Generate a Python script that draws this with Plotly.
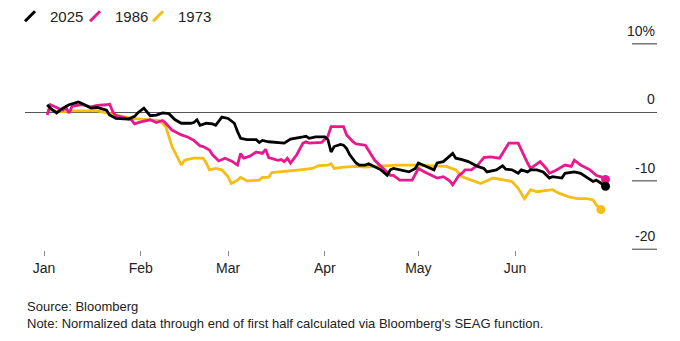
import pandas as pd
import plotly.graph_objects as go

# ---- data (days since Jan 1, cumulative % change) ----
d2025 = [1,2,4,6,8,11,13,15,17,20,21,23,27,29,30,32,34,36,38,40,42,44,47,48,49,50,52,54,55,57,
         59,61,62,63,65,68,69,70,72,76,77,79,81,83,84,85,87,90,91,92,93,95,96,97,98,100,101,103,104,106,
         108,110,111,112,114,117,119,120,122,124,125,126,128,131,132,134,136,139,141,142,145,147,148,150,152,153,155,156,158,160,
         162,163,166,167,170,172,173,174,176,177,179,180]
v2025 = [1.1,0.6,-0.1,0.6,1.1,1.5,1.1,0.6,0.7,0.3,-0.4,-0.9,-1.0,-0.6,-0.1,0.6,-0.5,-0.4,-0.1,-0.2,
         -1.1,-1.6,-1.6,-1.5,-1.1,-1.9,-1.6,-1.7,-1.9,-0.7,-0.9,-1.6,-2.8,-3.8,-4.0,-4.0,-4.4,-4.1,-4.3,-4.5,
         -4.5,-3.9,-3.8,-3.6,-3.5,-3.8,-3.6,-3.6,-4.0,-5.8,-5.0,-4.7,-4.8,-5.3,-6.2,-7.4,-7.7,-7.7,-7.5,-7.9,
         -8.4,-9.2,-8.4,-8.2,-8.4,-8.7,-8.2,-7.4,-7.8,-8.2,-8.4,-7.4,-7.2,-6.0,-6.7,-6.9,-7.2,-7.9,-8.2,-8.7,
         -8.4,-7.8,-8.3,-8.4,-8.9,-8.4,-8.7,-8.4,-8.4,-8.7,-9.6,-9.4,-9.6,-8.9,-8.7,-8.9,-9.2,-9.6,-10.1,-9.9,
         -10.5,-10.8]

d1986 = [1,2,4,6,7,8,9,12,15,17,20,21,22,23,25,28,29,31,34,36,38,39,41,44,46,48,50,51,53,54,
         56,58,60,62,63,64,66,68,70,71,72,75,76,77,78,79,81,83,84,85,89,91,92,94,96,97,99,100,103,106,
         108,110,111,112,114,118,120,122,124,126,128,130,131,133,134,135,137,139,141,143,
         146,149,152,154,155,156,159,161,162,164,167,169,170,172,173,175,177,179,180]
v1986 = [-0.4,1.1,0.7,0.3,0.7,-0.1,0.9,1.1,0.8,1.0,1.1,1.2,0.1,-0.5,-0.7,-1.1,-1.7,-1.4,-1.1,-1.5,
         -1.2,-1.6,-2.6,-3.3,-3.6,-4.1,-4.9,-5.0,-5.5,-6.2,-7.1,-6.7,-7.1,-7.7,-6.0,-6.7,-6.4,-5.8,-6.0,-5.4,
         -6.6,-7.0,-6.9,-7.2,-6.7,-7.4,-6.2,-4.5,-4.3,-4.5,-4.4,-3.5,-2.1,-2.1,-2.1,-3.3,-4.3,-4.6,-4.8,-7.0,
         -7.9,-8.7,-9.2,-9.2,-9.9,-9.9,-8.2,-8.7,-9.2,-9.6,-9.4,-10.0,-10.6,-9.2,-8.9,-8.4,-8.4,-7.7,-6.6,-6.5,
         -6.7,-4.5,-4.5,-6.5,-7.4,-8.2,-7.2,-8.2,-8.9,-8.5,-7.7,-7.9,-7.0,-7.7,-7.9,-8.4,-9.2,-9.5,-9.8]

d1973 = [1,3,6,9,17,20,23,28,31,34,37,39,41,44,45,48,51,52,53,55,57,59,60,62,63,65,69,70,72,73,
         76,79,82,84,86,88,91,92,93,96,100,103,108,113,119,126,129,132,134,137,
         140,144,147,150,152,154,156,158,163,165,168,171,174,176,177,178.5]
v1973 = [0.3,0.2,0.1,0.2,0.2,-0.1,-0.4,-0.9,-1.0,-1.1,-1.2,-2.1,-5.0,-7.7,-7.0,-6.7,-6.7,-7.4,-8.4,-8.2,
         -8.4,-9.4,-10.4,-9.9,-9.5,-10.0,-9.9,-9.5,-9.5,-8.8,-8.7,-8.6,-8.4,-8.3,-8.2,-7.8,-7.7,-7.5,-8.2,-8.0,
         -7.9,-8.0,-7.8,-7.7,-7.7,-7.8,-7.9,-8.4,-9.4,-9.9,-10.4,-9.6,-9.9,-10.1,-11.1,-12.6,-11.3,-11.6,-11.3,-11.8,
         -12.3,-12.6,-12.6,-12.8,-13.5,-14.2]

month_ticks = ["2025-01-01", "2025-02-01", "2025-03-01", "2025-04-01", "2025-05-01", "2025-06-01"]
month_labels = ["Jan", "Feb", "Mar", "Apr", "May", "Jun"]
y_ticks = [10, 0, -10, -20]
y_labels = ["10%", "0", "-10", "-20"]

names = ["2025", "1986", "1973"]
colors = {"2025": "#000000", "1986": "#e6198f", "1973": "#f6bd16"}
series = {"2025": (d2025, v2025), "1986": (d1986, v1986), "1973": (d1973, v1973)}

base = pd.Timestamp("2025-01-01")
def to_dates(days):
    return [base + pd.Timedelta(days=d) for d in days]

FONT = "Liberation Sans, Arial, Helvetica, sans-serif"
fig = go.Figure()

# lines (1973 at bottom, 2025 on top)
for name in ["1973", "1986", "2025"]:
    d, v = series[name]
    x = to_dates(d)
    fig.add_trace(go.Scatter(x=x, y=v, mode="lines", showlegend=False,
                             line=dict(color=colors[name], width=2.8), hoverinfo="skip"))
    fig.add_trace(go.Scatter(x=[x[-1]], y=[v[-1]], mode="markers", showlegend=False,
                             marker=dict(color=colors[name], size=9), hoverinfo="skip"))

# legend entries, one small legend per series
legend_ids = ["legend", "legend2", "legend3"]
legend_left = [10, 75, 138]
for name, lid in zip(names, legend_ids):
    fig.add_trace(go.Scatter(x=[None], y=[None], mode="markers", name=name, legend=lid,
                             marker=dict(symbol="line-ne", size=10,
                                         line=dict(width=3, color=colors[name]))))

# y-axis labels with short rules
for t, lab in zip(y_ticks, y_labels):
    fig.add_annotation(x=1, xref="paper", y=t, yref="y", text=lab, showarrow=False,
                       xanchor="right", yanchor="bottom", yshift=3,
                       font=dict(size=14, color="#222", family=FONT))
    if t != 0:
        fig.add_shape(type="line", xref="paper", yref="y", x0=0.9604, x1=1, y0=t, y1=t,
                      line=dict(color="#777", width=1.5))

fig.add_annotation(x=0, xref="paper", y=-0.259, yref="paper", text="Source: Bloomberg",
                   showarrow=False, xanchor="left", yanchor="middle",
                   font=dict(size=13, color="#222", family=FONT))
fig.add_annotation(x=0, xref="paper", y=-0.332, yref="paper",
                   text="Note: Normalized data through end of first half calculated via Bloomberg's SEAG function.",
                   showarrow=False, xanchor="left", yanchor="middle",
                   font=dict(size=13, color="#222", family=FONT))

legend_style = dict(orientation="h", xref="container", yref="container",
                    xanchor="left", y=1.0, yanchor="top",
                    font=dict(size=15, family=FONT, color="#222"),
                    bgcolor="rgba(0,0,0,0)", borderwidth=0, itemwidth=30)

fig.update_layout(
    template="none",
    width=680, height=341,
    margin=dict(l=25, r=23, t=30, b=91, autoexpand=False),
    paper_bgcolor="white", plot_bgcolor="white",
    font=dict(family=FONT, size=14, color="#222"),
    showlegend=True,
    legend=dict(x=legend_left[0] / 680, **legend_style),
    legend2=dict(x=legend_left[1] / 680, **legend_style),
    legend3=dict(x=legend_left[2] / 680, **legend_style),
    xaxis=dict(type="date", range=["2024-12-25 21:00", "2025-07-16 12:00"], automargin=False,
               tickvals=month_ticks, ticktext=month_labels,
               ticks="outside", ticklen=5, tickwidth=1, tickcolor="#888",
               showgrid=False, showline=False, zeroline=False,
               tickfont=dict(size=14, family=FONT, color="#222")),
    yaxis=dict(range=[-20.1, 12.01], showgrid=False, showticklabels=False, automargin=False,
               zeroline=True, zerolinecolor="#555", zerolinewidth=1, showline=False),
)

fig.write_html("out.html")
